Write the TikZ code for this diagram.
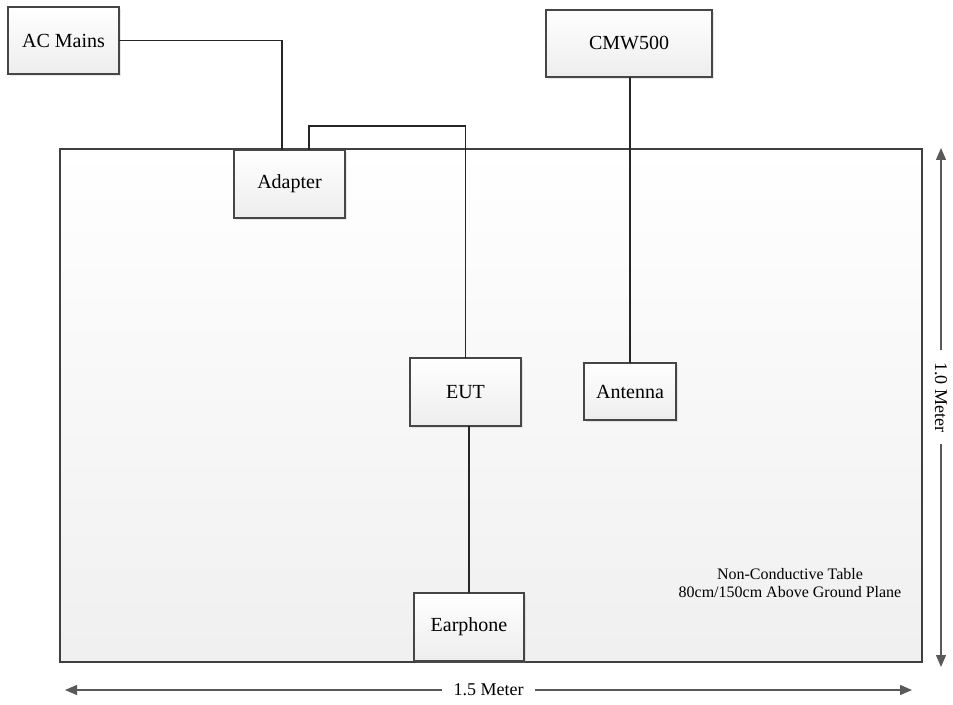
\documentclass[tikz,border=0pt]{standalone}
\usepackage{fontspec}
\setmainfont{Liberation Serif}
\usepackage{tikz}
\usetikzlibrary{arrows.meta,calc,shadows}

\begin{document}
\begin{tikzpicture}[
  x=0.75pt, y=-0.75pt,
  every node/.style={font=\fontsize{15}{18}\selectfont},
  cable/.style={line width=1.2pt, draw=black!85},
  dimarrow/.style={{Triangle[length=9pt,width=7.5pt]}-{Triangle[length=9pt,width=7.5pt]}, line width=1pt, draw=black!65},
  dimlabel/.style={fill=white, inner xsep=9pt, font=\fontsize{13.5}{16}\selectfont},
  devbox/.style={
    draw=gray!55!black,
    line width=0.9pt,
    top color=white,
    bottom color=gray!14,
    inner sep=0pt,
    outer sep=0pt,
    drop shadow={opacity=0.18, shadow xshift=1.2pt, shadow yshift=-1.2pt}
  },
  tablebox/.style={
    draw=black!75,
    line width=1.9pt,
    top color=white,
    bottom color=gray!12,
    inner sep=0pt,
    outer sep=0pt,
    minimum width=646.5pt,
    minimum height=384.75pt
  }
]
\useasboundingbox (0,0) rectangle (953,705);

% test table
\node[tablebox] (table) at (491,405.5) {};
\node[font=\fontsize{12}{14}\selectfont, align=center] (tablenote) at (790,583)
  {Non-Conductive Table\\80cm/150cm Above Ground Plane};

% equipment
\node[devbox, minimum width=83.25pt, minimum height=50.25pt] (acmains) at (63.5,40.5) {AC Mains};
\node[devbox, minimum width=124.5pt, minimum height=50.25pt] (cmw) at (629,43.5) {CMW500};
\node[devbox, minimum width=83.25pt, minimum height=51pt] (adapter) at (289.5,184) {Adapter};
\node[devbox, minimum width=83.25pt, minimum height=51pt] (eut) at (465.5,392) {EUT};
\node[devbox, minimum width=69pt, minimum height=42.75pt] (antenna) at (630,391.5) {Antenna};
\node[devbox, minimum width=82.5pt, minimum height=51pt] (earphone) at (469,627) {Earphone};

% cables
\draw[cable] (acmains.east) -| ($(adapter.north)+(-7.5,0)$);
\draw[cable] ($(adapter.north)+(19.5,0)$) -- ++(0,-24) -| (eut.north);
\draw[cable] (cmw.south -| antenna.north) -- (antenna.north);
\draw[cable] (eut.south -| earphone.north) -- (earphone.north);

% dimensions
\coordinate (wleft) at (65,690);
\coordinate (wright) at (912,690);
\coordinate (htop) at (941,148);
\coordinate (hbot) at (941,667);
\draw[dimarrow] (wleft) -- node[dimlabel] {1.5 Meter} (wright);
\draw[dimarrow] (htop) -- node[dimlabel, rotate=-90, pos=0.48] {1.0 Meter} (hbot);

\end{tikzpicture}
\end{document}
